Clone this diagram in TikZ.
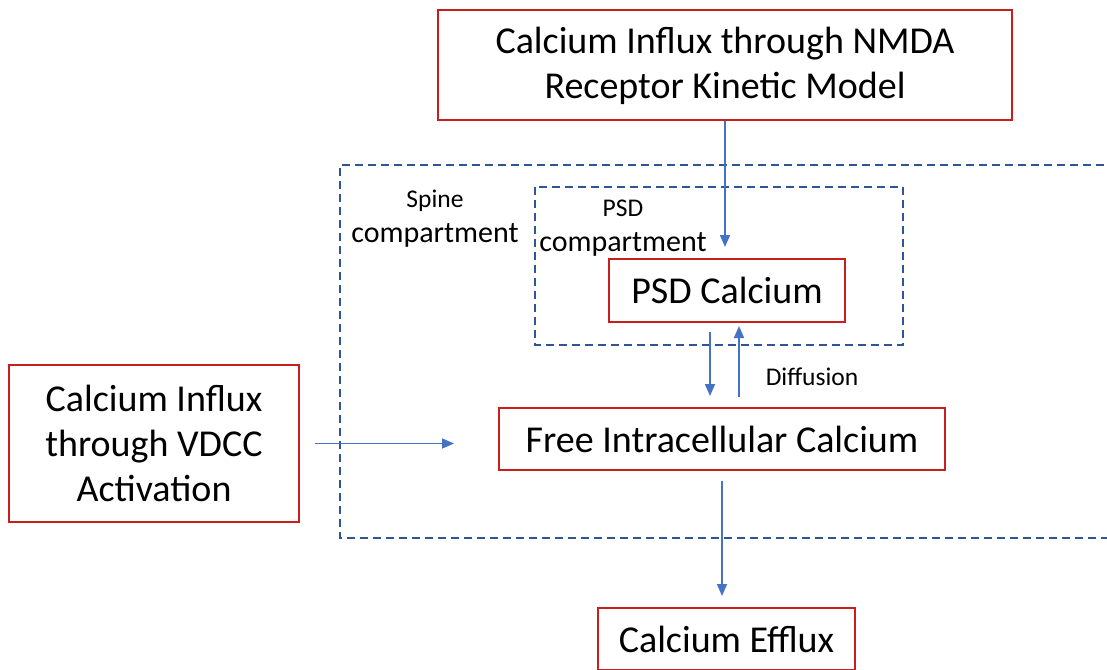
\documentclass[tikz,border=0pt]{standalone}
\usepackage{fontspec}
\setmainfont{Carlito}
\usetikzlibrary{arrows.meta}
\definecolor{boxred}{RGB}{200,30,30}
\definecolor{flowblue}{RGB}{68,114,196}
\definecolor{dashblue}{RGB}{47,85,151}

\begin{document}
\begin{tikzpicture}[x=0.5pt, y=-0.5pt,
    box/.style={draw=boxred, line width=1pt, align=center, inner sep=0pt,
      font=\fontsize{19}{22.5}\selectfont},
    comp/.style={draw=dashblue, line width=0.75pt, dash pattern=on 4pt off 2.5pt},
    lbl/.style={align=center, inner sep=0pt, font=\fontsize{15}{17.5}\selectfont},
    flow/.style={draw=flowblue, line width=0.8pt, -{Triangle[length=6pt,width=5pt]}}]
  \useasboundingbox (0,0) rectangle (1107,669);
  \clip (0,0) rectangle (1107,669);
  % compartments
  \draw[comp] (1130,165) -- (340,165) -- (340,538) -- (1130,538);
  \draw[comp] (535,187) rectangle (903,345);
  \node[lbl] (spine) at (435,219) {{\fontsize{12.75}{17.5}\selectfont Spine}\\compartment};
  \node[lbl] (psdlbl) at (623,228) {{\fontsize{12.75}{17}\selectfont PSD}\\compartment};
  % boxes
  \node[box, minimum width=287pt, minimum height=55pt] (nmda) at (725,65)
    {\raisebox{-5.5pt}[0pt][0pt]{\begin{tabular}{@{}c@{}}Calcium Influx through NMDA\\Receptor Kinetic Model\end{tabular}}};
  \node[box, minimum width=118pt, minimum height=31.5pt] (psd) at (727,290.5) {PSD Calcium};
  \node[box, minimum width=223pt, minimum height=31pt] (free) at (722,439) {Free Intracellular Calcium};
  \node[box, minimum width=145pt, minimum height=78.5pt] (vdcc) at (154,443.5)
    {Calcium Influx\\through VDCC\\Activation};
  \node[box, minimum width=128.5pt, minimum height=31pt] (efflux) at (726.5,639) {Calcium Efflux};
  \node[lbl, font=\fontsize{12.75}{15}\selectfont] (diff) at (812,377) {Diffusion};
  % flows
  \draw[flow, shorten >=5.5pt] (nmda.south) -- (nmda.south |- psd.north);
  \draw[flow, shorten <=4.5pt, shorten >=5.5pt] ([xshift=-8.5pt]psd.south) -- ([xshift=-8.5pt]psd.south |- free.north);
  \draw[flow, shorten <=5pt, shorten >=1.5pt] ([xshift=6pt]psd.south |- free.north) -- ([xshift=6pt]psd.south);
  \draw[flow, shorten <=7.5pt, shorten >=22pt] (vdcc.east) -- (vdcc.east -| free.west);
  \draw[flow, shorten <=5pt, shorten >=5.5pt] (free.south) -- (free.south |- efflux.north);
\end{tikzpicture}
\end{document}
